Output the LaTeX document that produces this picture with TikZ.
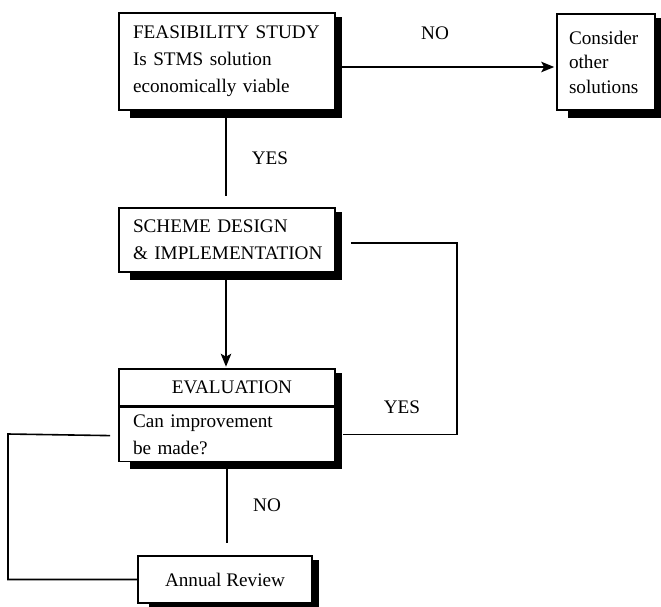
\documentclass[tikz,border=0pt]{standalone}
\usepackage{fontspec}
\setmainfont{Liberation Serif}
\usepackage{tikz}
\usetikzlibrary{arrows.meta,positioning,calc,backgrounds}
\tikzset{
  flowbox/.style={
    draw=black, fill=white, line width=1.6pt, align=left,
    inner xsep=0pt, inner ysep=0pt,
    font=\fontsize{19.2}{27}\selectfont
  },
  lbl/.style={font=\fontsize{19.2}{27}\selectfont, inner sep=0pt},
  wire/.style={draw=black, line width=1.6pt},
  arr/.style={wire, -{Stealth[length=13pt,width=10.5pt,inset=3pt]}},
  every picture/.append style={line join=miter}
}

\begin{document}
\begin{tikzpicture}[x=1pt, y=-1pt]
  \useasboundingbox (0,0) rectangle (661,606);

  % boxes
  \node[flowbox, minimum width=216pt, minimum height=97pt, text width=188pt] (feas) at (227,61.5)
    {\mbox{FEASIBILITY STUDY}\\Is STMS solution\\economically viable};
  \node[flowbox, minimum width=98pt, minimum height=96pt, text width=74pt,
        font=\fontsize{19.2}{24.5}\selectfont] (consider) at (606,62)
    {Consider\\other\\\mbox{solutions}};
  \node[flowbox, minimum width=216pt, minimum height=64pt, text width=188pt] (scheme) at (227,240)
    {SCHEME DESIGN\\\mbox{\& IMPLEMENTATION}};
  \node[flowbox, minimum width=216pt, minimum height=37pt, align=center] (evaltitle) at (227,387.5)
    {\hspace{10pt}EVALUATION};
  \node[flowbox, minimum width=216pt, minimum height=54pt, text width=188pt, below=0pt of evaltitle] (eval)
    {Can improvement\\be made?};
  \node[flowbox, minimum width=174pt, minimum height=47pt, align=center] (annual) at (225,579.5)
    {Annual Review};

  % shadows
  \begin{scope}[on background layer]
    \foreach \t/\b in {feas/feas, consider/consider, scheme/scheme, evaltitle/eval, annual/annual}
      \fill[black] ($(\b.south west)+(12,7)$) rectangle ($(\t.north east)+(6.5,5)$);
  \end{scope}

  % connectors
  \coordinate (yesend) at ($(scheme.north)+(-1,-11)$);
  \draw[wire] (feas.south -| yesend) -- (yesend);
  \node[lbl] (yes1) at (270,158) {YES};

  \draw[arr] ($(feas.east)+(6.5,5.5)$) -- ($(consider.west)+(-2,5)$);
  \node[lbl] (no1) at (435,33) {NO};

  \draw[arr] ($(scheme.south)+(-1,0)$) -- ($(evaltitle.north)+(-1,-1.5)$);

  \coordinate (loopr) at (457,243);
  \draw[wire] ($(scheme.east)+(15,3)$) -- (loopr) |- ($(eval.east)+(7,0)$);
  \node[lbl] (yes2) at (402,407) {YES};

  \coordinate (loopl) at (8,434);
  \draw[wire] ($(eval.west)+(-8,1)$) -- (loopl) |- (annual.west);

  \coordinate (noend) at ($(annual.north)+(2,-12)$);
  \draw[wire] (eval.south -| noend) -- (noend);
  \node[lbl] (no2) at (267,505) {NO};
\end{tikzpicture}
\end{document}
